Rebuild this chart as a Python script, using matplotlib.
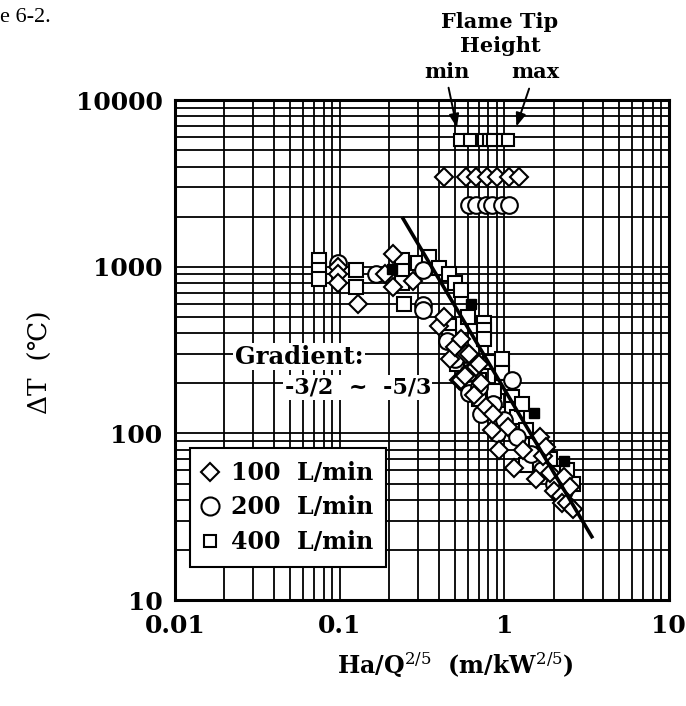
import matplotlib
matplotlib.use("Agg")
import matplotlib.pyplot as plt
from matplotlib.ticker import LogLocator, FixedLocator, NullFormatter

plt.rcParams["mathtext.fontset"] = "dejavuserif"
SERIF = ["DejaVu Serif", "DejaVu Sans"]

# flame tip height (top rows)
tip_sq_x = [0.54, 0.62, 0.75, 0.81, 0.85, 0.98, 1.05]
tip_sq_y = [5750, 5750, 5750, 5750, 5750, 5750, 5750]
tip_di_x = [0.43, 0.59, 0.67, 0.79, 0.91, 1.07, 1.23]
tip_di_y = [3460, 3460, 3460, 3460, 3460, 3460, 3460]
tip_ci_x = [0.61, 0.67, 0.78, 0.84, 0.97, 1.07]
tip_ci_y = [2350, 2350, 2350, 2350, 2350, 2350]

# 400 L/min (squares)
sq_x = [0.075, 0.075, 0.075, 0.125, 0.125, 0.24, 0.24, 0.24, 0.245, 0.30, 0.35,
        0.40, 0.46, 0.50, 0.55, 0.60, 0.46, 0.46, 0.75, 0.75, 0.75, 0.52, 0.70,
        0.70, 0.82, 0.97, 0.97, 0.97, 0.87, 0.93, 1.11, 1.11, 1.11, 1.20, 1.28,
        1.36, 1.36, 1.36, 1.55, 1.64, 1.90, 2.10, 2.20, 2.40, 2.60]
sq_y = [1100, 960, 850, 960, 760, 1100, 950, 800, 600, 1050, 1150,
        980, 900, 800, 730, 500, 440, 380, 460, 420, 370, 260, 210,
        160, 270, 280, 230, 190, 180, 130, 165, 140, 115, 125, 150,
        105, 85, 65, 85, 66, 70, 58, 48, 60, 50]

# 200 L/min (circles)
ci_x = [0.098, 0.166, 0.32, 0.32, 0.32, 0.45, 0.50, 0.58, 0.61, 0.60, 0.70,
        0.72, 0.85, 0.90, 1.00, 1.11, 1.20, 1.45, 1.70, 2.00, 2.30]
ci_y = [1050, 910, 960, 590, 550, 360, 280, 200, 175, 230, 190,
        130, 150, 100, 120, 210, 95, 75, 60, 50, 45]

# 100 L/min (diamonds)
di_x = [0.098, 0.098, 0.098, 0.13, 0.19, 0.21, 0.21, 0.28, 0.40, 0.43, 0.47,
        0.50, 0.53, 0.55, 0.55, 0.58, 0.59, 0.61, 0.66, 0.67, 0.70, 0.72, 0.78,
        0.84, 0.85, 0.93, 1.05, 1.15, 1.30, 1.57, 1.64, 1.71, 1.80, 1.90, 2.00,
        2.20, 2.25, 2.30, 2.40, 2.50, 2.60]
di_y = [1000, 900, 800, 600, 900, 1200, 760, 820, 440, 500, 280,
        330, 210, 370, 210, 220, 300, 300, 170, 250, 260, 200, 145,
        105, 130, 80, 110, 62, 80, 53, 95, 73, 83, 58, 45,
        42, 38, 55, 38, 48, 35]

# solid points
fill_x = [0.207, 0.63, 1.52, 2.32]
fill_y = [970, 600, 132, 68]

# gradient line
fit_x = [0.24, 3.45]
fit_y = [1990, 23.5]

fig = plt.figure(figsize=(6.86, 7.06), dpi=100)
ax = fig.add_axes([0.255, 0.150, 0.720, 0.708])

ax.set_xscale("log")
ax.set_yscale("log")
ax.set_xlim(0.01, 10)
ax.set_ylim(10, 10000)

ax.xaxis.set_major_locator(FixedLocator([0.01, 0.1, 1, 10]))
ax.yaxis.set_major_locator(FixedLocator([10, 100, 1000, 10000]))
ax.xaxis.set_minor_locator(LogLocator(base=10, subs=range(2, 10), numticks=20))
ax.yaxis.set_minor_locator(LogLocator(base=10, subs=range(2, 10), numticks=20))
ax.xaxis.set_minor_formatter(NullFormatter())
ax.yaxis.set_minor_formatter(NullFormatter())
ax.set_xticklabels(["0.01", "0.1", "1", "10"])
ax.set_yticklabels(["10", "100", "1000", "10000"])
ax.tick_params(which="both", length=0)
ax.tick_params(axis="x", pad=10)
ax.tick_params(axis="y", pad=9)
for lab in ax.get_xticklabels() + ax.get_yticklabels():
    lab.set_family(SERIF)
    lab.set_fontweight("bold")
    lab.set_fontsize(18)

ax.grid(True, which="both", color="black", linewidth=1.3)
ax.set_axisbelow(True)
for sp in ax.spines.values():
    sp.set_linewidth(2.2)

mk = dict(linestyle="none", markerfacecolor="white", markeredgecolor="black",
          markeredgewidth=1.5)
ax.plot(tip_sq_x, tip_sq_y, marker="s", markersize=8, **mk)
ax.plot(tip_di_x, tip_di_y, marker="D", markersize=9, **mk)
ax.plot(tip_ci_x, tip_ci_y, marker="o", markersize=12, **mk)

ax.plot(sq_x, sq_y, marker="s", markersize=10, **mk)
ax.plot(ci_x, ci_y, marker="o", markersize=12, **mk)
ax.plot(di_x, di_y, marker="D", markersize=9, **mk)
ax.plot(fill_x, fill_y, linestyle="none", marker="s", markersize=7, color="black")

ax.plot(fit_x, fit_y, color="black", linewidth=2.6, solid_capstyle="butt")

# legend
h1, = ax.plot([], [], marker="D", markersize=9, **mk)
h2, = ax.plot([], [], marker="o", markersize=13, **mk)
h3, = ax.plot([], [], marker="s", markersize=9, **mk)
leg = ax.legend([h1, h2, h3], ["100  L/min", "200  L/min", "400  L/min"],
                loc="lower left", bbox_to_anchor=(0.03, 0.066), borderaxespad=0,
                frameon=True, fancybox=False, handlelength=0.6, handletextpad=0.6,
                labelspacing=0.45, borderpad=0.55,
                prop={"family": SERIF, "weight": "bold", "size": 17})
leg.get_frame().set_edgecolor("black")
leg.get_frame().set_linewidth(1.5)
leg.get_frame().set_facecolor("white")
leg.get_frame().set_alpha(1)

# gradient text
ax.text(0.121, 0.487, "Gradient:", transform=ax.transAxes, ha="left", va="center",
        family=SERIF, fontweight="bold", fontsize=17.5, zorder=5,
        bbox=dict(facecolor="white", edgecolor="none", pad=1))
ax.text(0.222, 0.425, "-3/2  ~  -5/3", transform=ax.transAxes, ha="left",
        va="center", family=SERIF, fontweight="bold", fontsize=16, zorder=5,
        bbox=dict(facecolor="white", edgecolor="none", pad=1))

# flame tip height annotation
fig.text(500 / 686, 1 - 22 / 706, "Flame Tip", ha="center", va="center",
         family=SERIF, fontweight="bold", fontsize=15)
fig.text(500 / 686, 1 - 46 / 706, "Height", ha="center", va="center",
         family=SERIF, fontweight="bold", fontsize=15)
fig.text(447 / 686, 1 - 72 / 706, "min", ha="center", va="center",
         family=SERIF, fontweight="bold", fontsize=15)
fig.text(535 / 686, 1 - 72 / 706, "max", ha="center", va="center",
         family=SERIF, fontweight="bold", fontsize=15)
arrow = dict(arrowstyle="-|>,head_length=0.8,head_width=0.3", color="black", lw=1.4)
ax.annotate("", xy=(0.52, 6600), xytext=(448, 706 - 85),
            textcoords="figure pixels", arrowprops=arrow)
ax.annotate("", xy=(1.17, 6700), xytext=(530, 706 - 86),
            textcoords="figure pixels", arrowprops=arrow)

fig.text(0.0, 1 - 17 / 706, "e 6-2.", ha="left", va="center",
         family=["Liberation Serif"], fontsize=16)

fig.text(40 / 686, 1 - 362 / 706, "\u0394T  (\u2103)", rotation=90, ha="center",
         va="center", family=SERIF, fontsize=19)
fig.text(455 / 686, 1 - 665 / 706, r"Ha/Q$^{2/5}$  (m/kW$^{2/5}$)", ha="center",
         va="center", family=SERIF, fontweight="bold", fontsize=17)

fig.savefig("out.png", dpi=100)
